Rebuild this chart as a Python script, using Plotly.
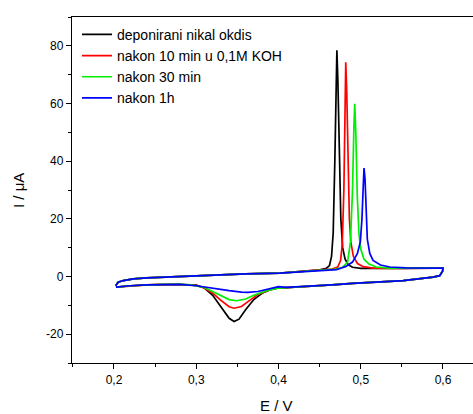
import plotly.graph_objects as go

# ---- data ----
series_names = ["deponirani nikal okdis", "nakon 10 min u 0,1M KOH", "nakon 30 min", "nakon 1h"]
series_colors = ["#000000", "#ff0000", "#00f000", "#0000ff"]

# common start of the anodic (forward) scan
E_start = [0.2020, 0.2050, 0.2113, 0.2235, 0.2397, 0.2800, 0.3207, 0.3600, 0.4018, 0.4300, 0.4505]
I_start = [-3.2, -2.0, -1.4, -0.8, -0.5, 0.0, 0.6, 0.9, 1.2, 1.7, 2.3]

# anodic peak regions (forward scan, to 0.6 V)
E_fwd_black = [0.458, 0.462, 0.4645, 0.4665, 0.4685, 0.4700, 0.4710, 0.4722, 0.4738, 0.4758, 0.478, 0.481, 0.485, 0.490, 0.500, 0.520, 0.550, 0.5915, 0.600]
I_fwd_black = [2.8, 3.8, 7.0, 15.0, 40.0, 70.0, 78.5, 68.0, 42.0, 20.0, 10.0, 6.0, 4.0, 3.2, 2.8, 2.7, 2.8, 2.9, 2.9]

E_fwd_red = [0.465, 0.472, 0.4755, 0.4775, 0.4795, 0.4808, 0.4818, 0.4830, 0.4845, 0.4862, 0.488, 0.491, 0.496, 0.503, 0.515, 0.540, 0.5915, 0.600]
I_fwd_red = [2.6, 3.3, 5.5, 11.0, 30.0, 58.0, 74.3, 64.0, 38.0, 20.0, 12.0, 7.0, 4.5, 3.4, 2.9, 2.8, 2.9, 2.9]

E_fwd_green = [0.470, 0.478, 0.484, 0.4875, 0.4900, 0.4917, 0.4927, 0.4940, 0.4958, 0.4978, 0.500, 0.504, 0.510, 0.519, 0.535, 0.5915, 0.600]
I_fwd_green = [2.6, 3.2, 5.0, 12.0, 30.0, 52.0, 59.9, 50.0, 28.0, 15.0, 9.5, 6.0, 4.3, 3.3, 2.9, 2.9, 2.9]

E_fwd_blue = [0.4707, 0.4748, 0.482, 0.490, 0.496, 0.4995, 0.5015, 0.5030, 0.5040, 0.5052, 0.5068, 0.508, 0.511, 0.515, 0.524, 0.5355, 0.555, 0.5915, 0.600]
I_fwd_blue = [2.4, 2.8, 3.5, 5.0, 8.0, 12.0, 20.0, 31.0, 37.6, 34.0, 22.0, 13.0, 8.0, 5.6, 4.0, 3.3, 3.0, 2.9, 2.9]

# common part of the cathodic (reverse) scan from 0.6 V down to 0.41 V
E_rev_top = [0.600, 0.5995, 0.598, 0.596, 0.588, 0.572, 0.5517, 0.530, 0.511, 0.490, 0.470, 0.4505, 0.430, 0.410]
I_rev_top = [2.9, 1.8, 0.9, 0.3, -0.2, -0.8, -1.4, -1.8, -2.0, -2.4, -2.8, -3.1, -3.5, -3.8]

# cathodic peak regions (reverse scan, down to 0.2 V)
E_rev_black = [0.400, 0.390, 0.380, 0.370, 0.360, 0.352, 0.346, 0.340, 0.330, 0.320, 0.310, 0.300, 0.280, 0.260, 0.240, 0.220, 0.210, 0.2024]
I_rev_black = [-4.0, -4.6, -5.8, -8.0, -11.5, -14.8, -15.6, -14.5, -10.5, -6.5, -4.0, -3.0, -2.7, -2.7, -2.9, -3.2, -3.5, -3.7]

E_rev_red = [0.400, 0.390, 0.375, 0.365, 0.355, 0.346, 0.340, 0.330, 0.320, 0.310, 0.300, 0.280, 0.260, 0.240, 0.220, 0.210, 0.2024]
I_rev_red = [-4.0, -4.6, -6.2, -8.3, -10.4, -11.0, -10.5, -8.3, -5.8, -4.0, -3.1, -2.8, -2.7, -2.9, -3.2, -3.5, -3.7]

E_rev_green = [0.400, 0.385, 0.370, 0.360, 0.349, 0.340, 0.330, 0.320, 0.310, 0.295, 0.280, 0.260, 0.240, 0.220, 0.210, 0.2024]
I_rev_green = [-4.0, -5.0, -6.5, -7.8, -8.4, -8.0, -6.6, -5.0, -3.8, -3.0, -2.7, -2.7, -2.9, -3.2, -3.5, -3.7]

E_rev_blue = [0.400, 0.390, 0.375, 0.363, 0.355, 0.340, 0.320, 0.300, 0.280, 0.260, 0.240, 0.220, 0.210, 0.2024]
I_rev_blue = [-3.5, -4.2, -5.2, -5.5, -5.4, -4.9, -4.0, -3.2, -2.7, -2.7, -2.9, -3.2, -3.5, -3.7]

x_tick_vals = [0.2, 0.3, 0.4, 0.5, 0.6]
x_tick_text = ["0,2", "0,3", "0,4", "0,5", "0,6"]
y_tick_vals = [-20, 0, 20, 40, 60, 80]
y_tick_text = ["-20", "0", "20", "40", "60", "80"]

fwd = [(E_fwd_black, I_fwd_black), (E_fwd_red, I_fwd_red), (E_fwd_green, I_fwd_green), (E_fwd_blue, I_fwd_blue)]
rev = [(E_rev_black, I_rev_black), (E_rev_red, I_rev_red), (E_rev_green, I_rev_green), (E_rev_blue, I_rev_blue)]

FONT = "Liberation Sans, Arial, sans-serif"

fig = go.Figure()
for name, color, (ef, jf), (er, jr) in zip(series_names, series_colors, fwd, rev):
    x = E_start + ef + E_rev_top + er
    y = I_start + jf + I_rev_top + jr
    fig.add_trace(go.Scatter(x=x, y=y, mode="lines", name=name,
                             line=dict(color=color, width=1.7)))

fig.update_layout(
    width=473, height=414,
    margin=dict(l=72, r=0, t=17, b=51),
    paper_bgcolor="white", plot_bgcolor="white",
    separators=", ",
    font=dict(family=FONT, size=12, color="#000"),
    showlegend=True,
    legend=dict(x=0.0125, y=0.995, xanchor="left", yanchor="top",
                bgcolor="rgba(255,255,255,0)", borderwidth=0,
                font=dict(family=FONT, size=14, color="#000")),
    xaxis=dict(range=[0.14894, 0.6365], showgrid=False, zeroline=False,
               showline=True, linecolor="#000", linewidth=1.3, mirror=True,
               ticks="outside", ticklen=5, tickwidth=1, tickcolor="#000",
               tickvals=x_tick_vals, ticktext=x_tick_text,
               minor=dict(tickvals=[0.15, 0.25, 0.35, 0.45, 0.55, 0.65], ticks="outside", ticklen=3, tickcolor="#000"),
               tickfont=dict(family=FONT, size=12, color="#000")),
    yaxis=dict(range=[-30, 90], showgrid=False, zeroline=False,
               showline=True, linecolor="#000", linewidth=1.3, mirror=False,
               ticks="outside", ticklen=5, tickwidth=1, tickcolor="#000",
               tickvals=y_tick_vals, ticktext=y_tick_text,
               minor=dict(tickvals=[-30, -10, 10, 30, 50, 70, 90], ticks="outside", ticklen=3, tickcolor="#000"),
               tickfont=dict(family=FONT, size=12, color="#000")),
    annotations=[
        dict(text="E / V", xref="paper", yref="paper", x=0.511, y=-0.1214,
             xanchor="center", yanchor="middle", showarrow=False,
             font=dict(family=FONT, size=15, color="#000")),
        dict(text="I / \u03bcA", xref="paper", yref="paper", x=-0.1347, y=0.5,
             xanchor="center", yanchor="middle", showarrow=False, textangle=-90,
             font=dict(family=FONT, size=15, color="#000")),
    ],
)

fig.write_html("out.html", config={"displayModeBar": False},
               post_script="document.body.style.margin='0';document.body.style.overflow='hidden';")
